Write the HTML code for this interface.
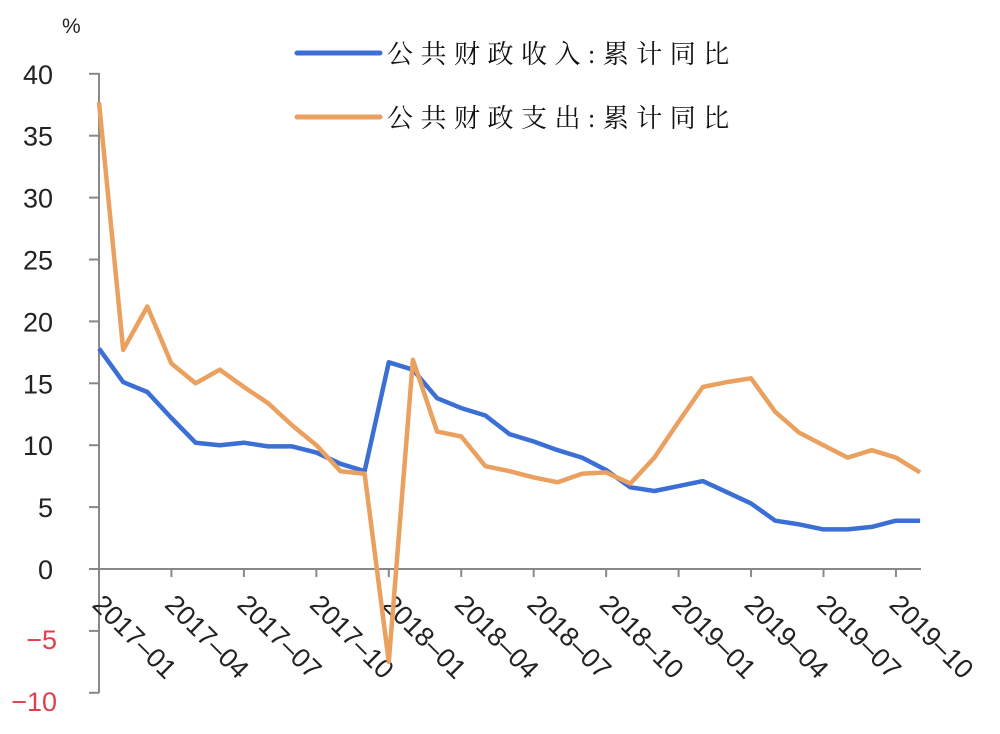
<!DOCTYPE html>
<html><head><meta charset="utf-8"><style>html,body{margin:0;padding:0;background:#fff;}svg{display:block;}</style></head>
<body>
<svg id="c" width="1000" height="734" viewBox="0 0 1000 734" xmlns="http://www.w3.org/2000/svg" font-family="Liberation Sans, sans-serif">
<rect width="1000" height="734" fill="#fff"/>
<text x="62" y="33" font-size="21" fill="#222">%</text>
<g id="ax" stroke="#888" stroke-width="2" fill="none"></g>
<g id="lab" font-size="27" fill="#222"></g>
<polyline id="pb" fill="none" stroke="#3b6fd6" stroke-width="4.5" stroke-linejoin="round"/>
<polyline id="po" fill="none" stroke="#eaa05e" stroke-width="4.5" stroke-linejoin="round"/>
<line x1="297" y1="53" x2="380" y2="53" stroke="#3b6fd6" stroke-width="5" stroke-linecap="round"/>
<line x1="297" y1="117" x2="380" y2="117" stroke="#eaa05e" stroke-width="5" stroke-linecap="round"/>
<text x="387" y="63" font-size="26" letter-spacing="7.5" fill="#111" font-family="Liberation Serif, Noto Serif CJK SC, serif">公共财政收入:累计同比</text>
<text x="387" y="127" font-size="26" letter-spacing="7.5" fill="#111" font-family="Liberation Serif, Noto Serif CJK SC, serif">公共财政支出:累计同比</text>
</svg>
<script>
var NS="http://www.w3.org/2000/svg";
function Y(v){return 569-v*12.38;}
function X(i){return 99+i*24.15;}
var ax=document.getElementById('ax'),lab=document.getElementById('lab');
function el(t,a,p){var e=document.createElementNS(NS,t);for(var k in a)e.setAttribute(k,a[k]);p.appendChild(e);return e;}
el('line',{x1:99,y1:73,x2:99,y2:693},ax);
el('line',{x1:99,y1:569,x2:921,y2:569},ax);
for(var v=-10;v<=40;v+=5){var y=Y(v);el('line',{x1:89,y1:y,x2:99,y2:y},ax);
 var t=el('text',{x:v<0?57:53,y:y+10+(v<0?8:0),'text-anchor':'end',fill:v<0?'#e0404a':'#222'},lab);t.textContent=v<0?'\u2212'+(-v):v;}
var names=['2017–01','2017–04','2017–07','2017–10','2018–01','2018–04','2018–07','2018–10','2019–01','2019–04','2019–07','2019–10'];
for(var k=0;k<12;k++){var x=X(k*3);if(k>0)el('line',{x1:x,y1:569,x2:x,y2:577},ax);
 var t=el('text',{x:x-8,y:606,transform:'rotate(45 '+(x-8)+' 606)'},lab);t.textContent=names[k];}
var b=[17.8,15.1,14.3,12.2,10.2,10.0,10.2,9.9,9.9,9.4,8.5,7.9,16.7,16.1,13.8,13.0,12.4,10.9,10.3,9.6,9.0,8.0,6.6,6.3,6.7,7.1,6.2,5.3,3.9,3.6,3.2,3.2,3.4,3.9,3.9];
var o=[37.7,17.7,21.2,16.6,15.0,16.1,14.7,13.4,11.6,10.0,7.9,7.7,-7.5,16.9,11.1,10.7,8.3,7.9,7.4,7.0,7.7,7.8,6.9,9.0,11.9,14.7,15.1,15.4,12.7,11.0,10.0,9.0,9.6,9.0,7.8];
function pts(a){return a.map(function(v,i){return X(i).toFixed(1)+','+Y(v).toFixed(1);}).join(' ');}
document.getElementById('pb').setAttribute('points',pts(b));
document.getElementById('po').setAttribute('points',pts(o));
</script>
</body></html>
